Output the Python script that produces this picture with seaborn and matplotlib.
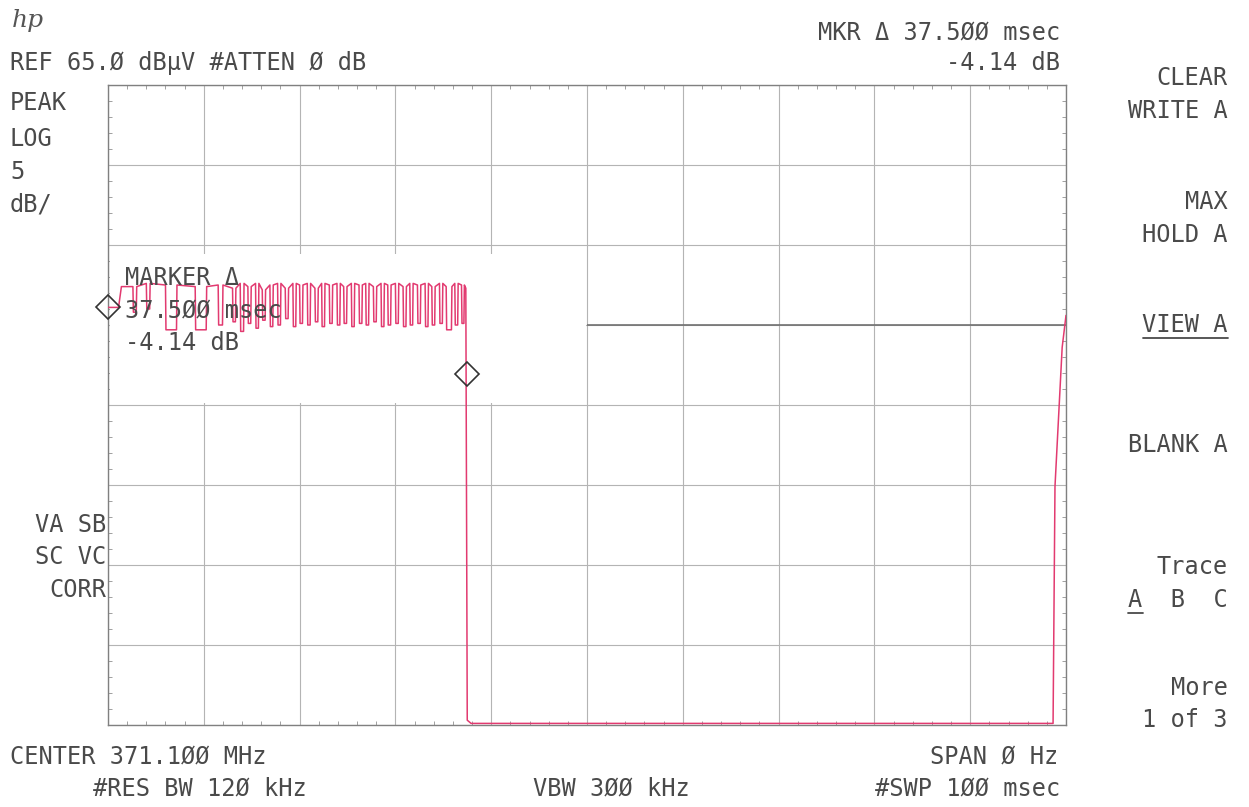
import numpy as np
import pandas as pd
import matplotlib.pyplot as plt
import seaborn as sns
from matplotlib.patches import Rectangle
from matplotlib.lines import Line2D
from matplotlib.ticker import MultipleLocator

# sweep 0..100 ms (zero span), REF 65 dBuV, 5 dB/div, 8 divisions
sweep_ms = [0, 100]
level_dbuv = [25, 65]

# trace before the first pulse dip
lead_ms = [0.0, 1.1, 1.4]
lead_dbuv = [51.1, 51.1, 52.4]

# pulse dips in the burst: start / end (ms), floor and top level (dBuV)
dip_start_ms = [2.6, 4.0, 6.0, 9.1, 11.5,
                13.0, 13.8, 14.6, 15.4, 16.1, 16.9, 17.7, 18.5, 19.3, 20.0,
                20.8, 21.6, 22.3, 23.1, 23.9, 24.6, 25.4, 26.2, 26.9, 27.7,
                28.5, 29.2, 30.0, 30.8, 31.5, 32.3, 33.1, 33.8, 34.6, 35.3,
                36.2, 36.9]
dip_end_ms = [3.0, 4.4, 7.2, 10.3, 12.0,
              13.35, 14.2, 14.95, 15.75, 16.45, 17.25, 18.05, 18.85, 19.65, 20.35,
              21.15, 21.95, 22.65, 23.45, 24.25, 24.95, 25.75, 26.55, 27.25, 28.05,
              28.85, 29.55, 30.35, 31.15, 31.85, 32.65, 33.45, 34.15, 34.95, 35.9,
              36.55, 37.2]
dip_floor_dbuv = [50.8, 51.0, 49.7, 49.7, 50.0,
                  50.2, 49.6, 50.1, 49.8, 50.3, 49.9, 50.0, 50.4, 49.9, 50.1,
                  50.0, 50.2, 49.9, 50.1, 50.0, 50.1, 49.9, 50.1, 50.0, 50.2,
                  49.9, 50.0, 50.1, 49.9, 50.0, 50.1, 49.9, 50.0, 50.1, 49.7,
                  50.0, 50.1]
dip_top_dbuv = [52.4, 52.6, 52.5, 52.4, 52.5,
                52.3, 52.6, 52.4, 52.6, 52.2, 52.5, 52.6, 52.3, 52.6, 52.5,
                52.6, 52.3, 52.6, 52.5, 52.6, 52.4, 52.6, 52.5, 52.6, 52.4,
                52.6, 52.5, 52.6, 52.4, 52.6, 52.5, 52.6, 52.4, 52.6, 52.4,
                52.6, 52.5]

# end of burst, noise floor, and rise at the end of the sweep
tail_ms = [37.35, 37.5, 37.9, 98.65, 98.85, 99.6, 100.0]
tail_dbuv = [52.3, 25.3, 25.1, 25.1, 39.9, 48.6, 50.6]

marker_ms = [0.0, 37.5]
marker_dbuv = [51.1, 46.96]

xs, ys = list(lead_ms), list(lead_dbuv)
for s, e, f, p in zip(dip_start_ms, dip_end_ms, dip_floor_dbuv, dip_top_dbuv):
    xs += [s, s + 0.05, e - 0.05, e]
    ys += [p, f, f, p]
xs += tail_ms
ys += tail_dbuv
trace = pd.DataFrame({'ms': xs, 'dbuv': ys})

W, H = 1249, 807
sns.set_theme(style='white')
fig = plt.figure(figsize=(W / 100, H / 100), dpi=100)
ax = fig.add_axes([108 / W, 1 - 725 / H, (1066 - 108) / W, (725 - 85) / H])

grid_c = '#b4b4b4'
ax.set_xlim(sweep_ms)
ax.set_ylim(level_dbuv)
ax.set_xticks(np.arange(0, 101, 10))
ax.set_yticks(np.arange(25, 66, 5))
ax.xaxis.set_minor_locator(MultipleLocator(2))
ax.yaxis.set_minor_locator(MultipleLocator(1))
ax.set_xticklabels([])
ax.set_yticklabels([])
ax.tick_params(which='major', length=0)
ax.tick_params(which='minor', direction='in', length=3, width=0.7, color='#a0a0a0',
               bottom=True, top=True, left=True, right=True)
ax.grid(True, which='major', color=grid_c, lw=0.8)
ax.set_axisbelow(True)
for sp in ax.spines.values():
    sp.set_color('#808080')
    sp.set_linewidth(1.0)

# blank area behind the marker readout
ax.add_patch(Rectangle((0.2, 45.15), 49.7, 9.3, fc='white', ec='none', zorder=1))
ax.hlines(50, 50, 100, color='#707070', lw=1.2, zorder=1.2)

sns.lineplot(data=trace, x='ms', y='dbuv', sort=False, estimator=None,
             color='#e23a70', lw=1.1, ax=ax, zorder=3)
ax.plot(marker_ms, marker_dbuv, ls='none', marker='D', ms=12, mfc='none',
        mec='#333333', mew=1.2, zorder=4, clip_on=False)
ax.set_xlabel('')
ax.set_ylabel('')

txt_c = '#4a4a4a'
FS = 17


def put(x, y, s, ha='left', **kw):
    return fig.text(x / W, 1 - y / H, s, ha=ha, va='center', fontsize=FS,
                    family='DejaVu Sans Mono', color=txt_c, **kw)


fig.text(12 / W, 1 - 20 / H, 'hp', ha='left', va='center', fontsize=18,
         family='DejaVu Serif', style='italic', color='#555555')
put(10, 63, 'REF 65.Ø dBµV #ATTEN Ø dB')
put(1060, 33, 'MKR Δ 37.5ØØ msec', ha='right')
put(1060, 63, '-4.14 dB', ha='right')

for y, s in zip([103, 139, 172, 205], ['PEAK', 'LOG', '5', 'dB/']):
    put(10, y, s)
for y, s in zip([525, 557, 590], ['VA SB', 'SC VC', 'CORR']):
    put(106, y, s, ha='right')

side = [(78, 'CLEAR'), (111, 'WRITE A'), (202, 'MAX'), (235, 'HOLD A'),
        (325, 'VIEW A'), (445, 'BLANK A'), (567, 'Trace'), (600, 'A  B  C'),
        (688, 'More'), (720, '1 of 3')]
side_txt = {}
for y, s in side:
    side_txt[s] = put(1228, y, s, ha='right')

put(125, 278, 'MARKER Δ')
put(125, 311, '37.5ØØ msec')
put(125, 343, '-4.14 dB')

put(10, 757, 'CENTER 371.1ØØ MHz')
put(1058, 757, 'SPAN Ø Hz', ha='right')
put(93, 788, '#RES BW 12Ø kHz')
put(611, 788, 'VBW 3ØØ kHz', ha='center')
put(1060, 788, '#SWP 1ØØ msec', ha='right')

# underline the active soft keys
fig.canvas.draw()
r = fig.canvas.get_renderer()
bb = side_txt['VIEW A'].get_window_extent(r)
fig.add_artist(Line2D([bb.x0 / W, bb.x1 / W], [1 - 338 / H, 1 - 338 / H],
                      color=txt_c, lw=1.3))
bb = side_txt['A  B  C'].get_window_extent(r)
cw = bb.width / 7
fig.add_artist(Line2D([bb.x0 / W, (bb.x0 + cw) / W], [1 - 613 / H, 1 - 613 / H],
                      color=txt_c, lw=1.3))

fig.savefig('out.png', dpi=100, facecolor='white')
